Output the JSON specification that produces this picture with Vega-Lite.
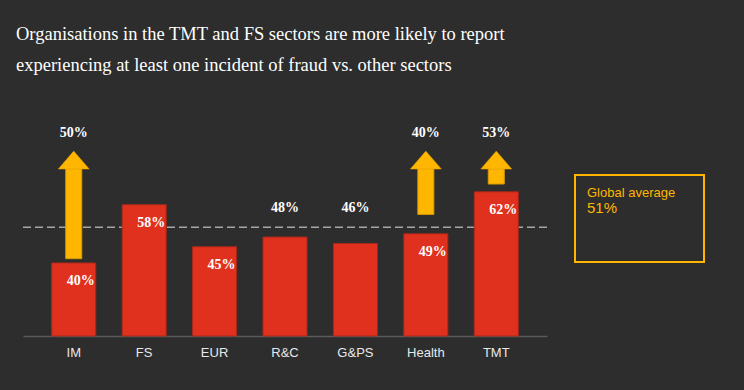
{
  "$schema": "https://vega.github.io/schema/vega-lite/v6.json",
  "width": 524,
  "height": 216,
  "autosize": {"type": "none"},
  "padding": {"left": 23, "top": 120, "right": 197, "bottom": 54},
  "background": "#2d2d2d",
  "config": {
    "view": {"stroke": null},
    "font": "Liberation Sans",
    "legend": {"strokeWidth": 2}
  },
  "title": {
    "text": ["Organisations in the TMT and FS sectors are more likely to report", "experiencing at least one incident of fraud vs. other sectors"],
    "anchor": "start",
    "frame": "group",
    "font": "Liberation Serif",
    "fontSize": 18.5,
    "fontWeight": "normal",
    "color": "#ffffff",
    "lineHeight": 31,
    "offset": 46,
    "dx": -7
  },
  "datasets": {
    "sectors": [
      {"sector": "IM", "value": 40, "label": "40%"},
      {"sector": "FS", "value": 58, "label": "58%"},
      {"sector": "EUR", "value": 45, "label": "45%"},
      {"sector": "R&C", "value": 48, "label": "48%"},
      {"sector": "G&PS", "value": 46, "label": "46%"},
      {"sector": "Health", "value": 49, "label": "49%"},
      {"sector": "TMT", "value": 62, "label": "62%"}
    ],
    "arrows": [
      {"sector": "IM", "from": 41.3, "label": "50%"},
      {"sector": "Health", "from": 55.0, "label": "40%"},
      {"sector": "TMT", "from": 64.4, "label": "53%"}
    ],
    "average": [
      {"avg": 51, "name": "51%"}
    ]
  },
  "layer": [
    {
      "data": {"name": "average"},
      "mark": {"type": "rule", "strokeDash": [8, 4], "strokeWidth": 1.5},
      "encoding": {
        "y": {"field": "avg", "type": "quantitative", "scale": {"domain": [17.4, 84.2], "zero": false, "nice": false}, "axis": null},
        "color": {
          "field": "name",
          "type": "nominal",
          "scale": {"range": ["#a6a6a6"]},
          "legend": {
            "orient": "none",
            "legendX": 552,
            "legendY": 55,
            "padding": 12,
            "strokeColor": "#ffb600",
            "title": "Global average",
            "titleFont": "Liberation Sans",
            "titleFontSize": 13,
            "titleFontWeight": "normal",
            "titleColor": "#ffb600",
            "titlePadding": -7,
            "labelFont": "Liberation Sans",
            "labelFontSize": 15,
            "labelColor": "#ffb600",
            "labelOffset": -15,
            "labelBaseline": "top",
            "labelLimit": 200,
            "labelExpr": "[datum.label, '', '\u200b\u00a0\u00a0\u00a0\u00a0\u00a0\u00a0\u00a0\u00a0\u00a0\u00a0\u00a0\u00a0\u00a0\u00a0\u00a0\u00a0\u00a0\u00a0\u00a0\u00a0\u00a0\u00a0\u00a0\u00a0\u00a0\u200b']",
            "symbolType": "circle",
            "symbolSize": 0,
            "symbolOpacity": 0,
            "symbolStrokeWidth": 0
          }
        }
      }
    },
    {
      "data": {"name": "sectors"},
      "mark": {"type": "bar", "color": "#e0301e", "stroke": "#a8281a", "strokeWidth": 1},
      "encoding": {
        "x": {
          "field": "sector",
          "type": "nominal",
          "sort": null,
          "scale": {"domain": ["IM", "FS", "EUR", "R&C", "G&PS", "Health", "TMT"], "paddingInner": 0.375, "paddingOuter": 0.408},
          "axis": {
            "title": null,
            "labelAngle": 0,
            "ticks": false,
            "labelPadding": 10,
            "labelFont": "Liberation Sans",
            "labelFontSize": 13,
            "labelColor": "#e8e8e8",
            "domainColor": "#5a5a5a",
            "domainWidth": 1.5,
            "grid": false
          }
        },
        "y": {"field": "value", "type": "quantitative", "scale": {"domain": [17.4, 84.2], "zero": false, "nice": false}, "axis": null},
        "y2": {"datum": 17.4}
      }
    },
    {
      "data": {"name": "sectors"},
      "transform": [{"filter": "datum.sector !== 'R&C' && datum.sector !== 'G&PS'"}],
      "mark": {"type": "text", "font": "Liberation Serif", "fontWeight": "bold", "fontSize": 14, "color": "#ffffff", "baseline": "middle", "dx": 7, "dy": 18.5},
      "encoding": {
        "x": {"field": "sector", "type": "nominal", "sort": null},
        "y": {"field": "value", "type": "quantitative", "scale": {"domain": [17.4, 84.2], "zero": false, "nice": false}},
        "text": {"field": "label"}
      }
    },
    {
      "data": {"name": "sectors"},
      "transform": [{"filter": "datum.sector === 'R&C' || datum.sector === 'G&PS'"}],
      "mark": {"type": "text", "font": "Liberation Serif", "fontWeight": "bold", "fontSize": 14, "color": "#ffffff", "baseline": "middle"},
      "encoding": {
        "x": {"field": "sector", "type": "nominal", "sort": null},
        "y": {"datum": 57.1},
        "text": {"field": "label"}
      }
    },
    {
      "data": {"name": "arrows"},
      "mark": {"type": "bar", "width": 16, "color": "#ffb600", "stroke": "#d99a00", "strokeWidth": 1},
      "encoding": {
        "x": {"field": "sector", "type": "nominal", "sort": null},
        "y": {"field": "from", "type": "quantitative", "scale": {"domain": [17.4, 84.2], "zero": false, "nice": false}},
        "y2": {"datum": 69.6}
      }
    },
    {
      "data": {"name": "arrows"},
      "mark": {"type": "point", "shape": "M-1,0.58L1,0.58L0,-0.58Z", "filled": true, "size": 961, "color": "#ffb600", "opacity": 1, "stroke": "#d99a00", "strokeWidth": 0.5},
      "encoding": {
        "x": {"field": "sector", "type": "nominal", "sort": null},
        "y": {"datum": 71.8}
      }
    },
    {
      "data": {"name": "arrows"},
      "mark": {"type": "text", "font": "Liberation Serif", "fontWeight": "bold", "fontSize": 14, "color": "#ffffff", "baseline": "middle"},
      "encoding": {
        "x": {"field": "sector", "type": "nominal", "sort": null},
        "y": {"datum": 80.1},
        "text": {"field": "label"}
      }
    }
  ]
}
